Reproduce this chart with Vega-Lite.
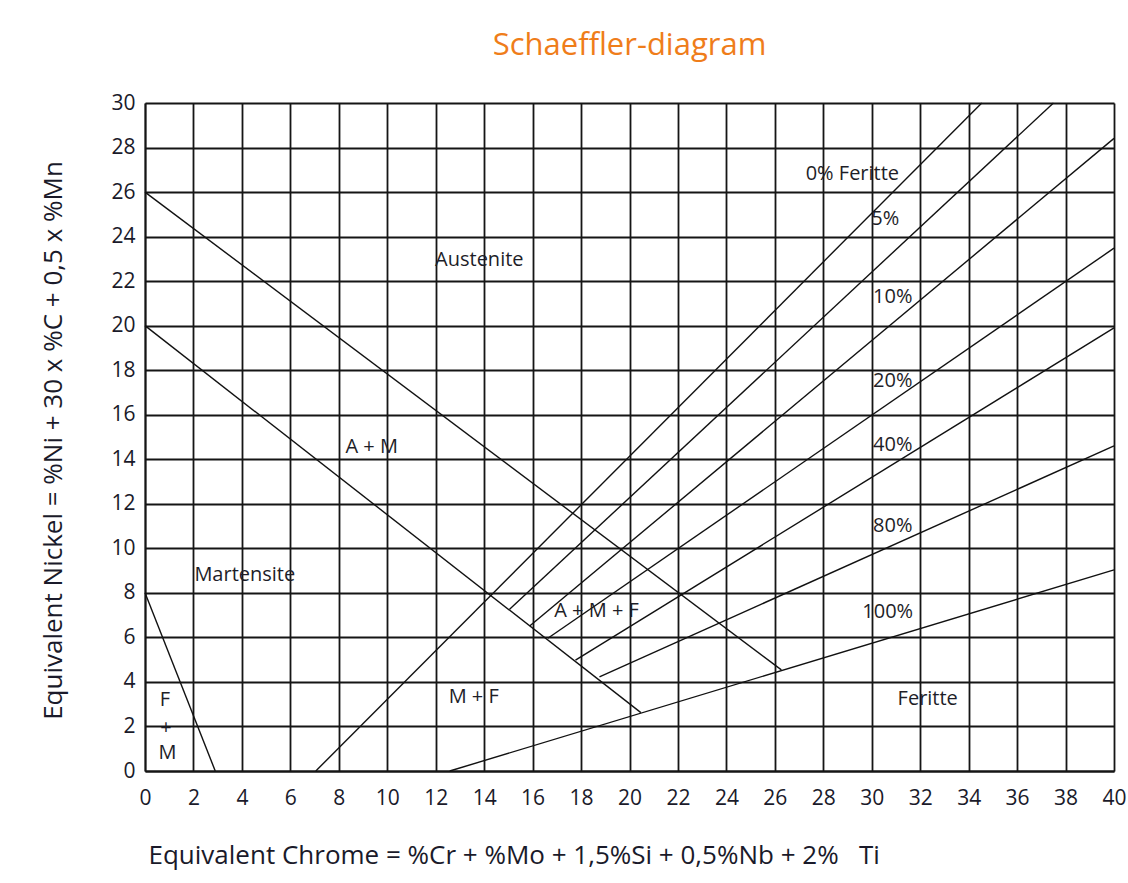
{
  "$schema": "https://vega.github.io/schema/vega-lite/v6.json",
  "width": 969,
  "height": 668,
  "autosize": {"type": "none"},
  "padding": {"left": 145, "top": 103, "right": 14, "bottom": 112},
  "background": "white",
  "config": {"view": {"stroke": null}, "font": "Open Sans"},
  "title": {"text": "Schaeffler-diagram", "color": "#ef7d1a", "fontSize": 31, "font": "Open Sans", "fontWeight": "normal", "anchor": "middle", "frame": "group", "baseline": "alphabetic", "offset": 6},
  "datasets": {
    "lines": [
      {"line": "austenite", "x": 0, "y": 26},
      {"line": "austenite", "x": 26.27, "y": 4.54},
      {"line": "martensite", "x": 0, "y": 20},
      {"line": "martensite", "x": 20.47, "y": 2.62},
      {"line": "fm", "x": 0, "y": 8},
      {"line": "fm", "x": 2.9, "y": 0},
      {"line": "f0", "x": 7.05, "y": 0},
      {"line": "f0", "x": 34.54, "y": 30},
      {"line": "f5", "x": 15.05, "y": 7.26},
      {"line": "f5", "x": 37.5, "y": 30},
      {"line": "f10", "x": 15.88, "y": 6.51},
      {"line": "f10", "x": 40, "y": 28.41},
      {"line": "f20", "x": 16.63, "y": 5.96},
      {"line": "f20", "x": 40, "y": 23.48},
      {"line": "f40", "x": 17.77, "y": 4.98},
      {"line": "f40", "x": 40, "y": 19.9},
      {"line": "f80", "x": 18.76, "y": 4.23},
      {"line": "f80", "x": 40, "y": 14.6},
      {"line": "f100", "x": 12.58, "y": 0},
      {"line": "f100", "x": 40, "y": 9.03}
    ],
    "labels": [
      {"label": "0% Feritte", "x": 29.2, "y": 26.8},
      {"label": "5%", "x": 30.56, "y": 24.79},
      {"label": "10%", "x": 30.87, "y": 21.28},
      {"label": "20%", "x": 30.87, "y": 17.5},
      {"label": "40%", "x": 30.87, "y": 14.64},
      {"label": "80%", "x": 30.87, "y": 11.0},
      {"label": "100%", "x": 30.66, "y": 7.12},
      {"label": "Austenite", "x": 13.8, "y": 22.95},
      {"label": "A + M", "x": 9.36, "y": 14.55},
      {"label": "Martensite", "x": 4.12, "y": 8.8},
      {"label": "A + M + F", "x": 18.64, "y": 7.18},
      {"label": "M + F", "x": 13.57, "y": 3.32},
      {"label": "Feritte", "x": 32.31, "y": 3.23},
      {"label": "F", "x": 0.82, "y": 3.2},
      {"label": "+", "x": 0.87, "y": 1.93},
      {"label": "M", "x": 0.93, "y": 0.83}
    ]
  },
  "layer": [
    {
      "data": {"name": "lines"},
      "mark": {"type": "line", "color": "#111111", "strokeWidth": 1.4},
      "encoding": {
        "x": {
          "field": "x", "type": "quantitative",
          "scale": {"domain": [0, 40], "nice": false, "zero": false},
          "axis": {
            "values": [0, 2, 4, 6, 8, 10, 12, 14, 16, 18, 20, 22, 24, 26, 28, 30, 32, 34, 36, 38, 40],
            "grid": true, "gridColor": "#151515", "gridWidth": 1.8, "gridOpacity": 1,
            "ticks": false, "domainColor": "#151515", "domainWidth": 1.8,
            "labelFontSize": 21, "labelColor": "#1a1a2a", "labelPadding": 16,
            "labelFlush": false, "labelOverlap": false,
            "title": "Equivalent Chrome = %Cr + %Mo + 1,5%Si + 0,5%Nb + 2%\u00a0\u00a0\u00a0Ti",
            "titleFontSize": 26, "titleFontWeight": "normal", "titleColor": "#1a1a2a",
            "titleAnchor": "start", "titleAlign": "left", "titleX": 3, "titleY": 92, "titleBaseline": "alphabetic"
          }
        },
        "y": {
          "field": "y", "type": "quantitative",
          "scale": {"domain": [0, 30], "nice": false, "zero": false},
          "axis": {
            "values": [0, 2, 4, 6, 8, 10, 12, 14, 16, 18, 20, 22, 24, 26, 28, 30],
            "grid": true, "gridColor": "#151515", "gridWidth": 1.8, "gridOpacity": 1,
            "ticks": false, "domainColor": "#151515", "domainWidth": 1.8,
            "labelFontSize": 21, "labelColor": "#1a1a2a", "labelPadding": 10,
            "labelFlush": false, "labelOverlap": false,
            "title": "Equivalent Nickel = %Ni + 30 x %C + 0,5 x %Mn",
            "titleFontSize": 26, "titleFontWeight": "normal", "titleColor": "#1a1a2a",
            "titleAngle": -90, "titleAlign": "center", "titleBaseline": "alphabetic", "titleX": -84, "titleY": 337
          }
        },
        "detail": {"field": "line", "type": "nominal"}
      }
    },
    {
      "data": {"name": "labels"},
      "mark": {"type": "text", "fontSize": 20, "color": "#1e1e28", "baseline": "middle", "align": "center"},
      "encoding": {
        "x": {"field": "x", "type": "quantitative"},
        "y": {"field": "y", "type": "quantitative"},
        "text": {"field": "label", "type": "nominal"}
      }
    }
  ]
}
